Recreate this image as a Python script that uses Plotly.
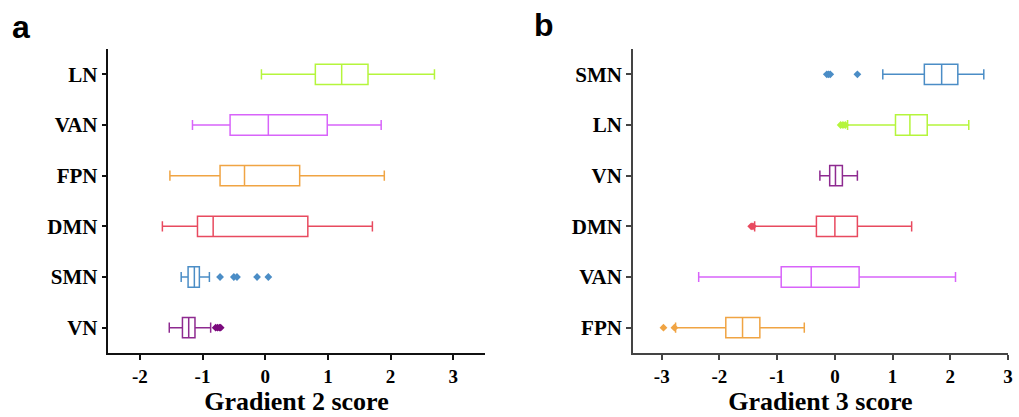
import plotly.graph_objects as go

# ---------- data: panel a (Gradient 2) ----------
cats_a = ["VN", "SMN", "DMN", "FPN", "VAN", "LN"]
lo_a = [-1.53, -1.34, -1.64, -1.52, -1.16, -0.06]
q1_a = [-1.32, -1.23, -1.08, -0.72, -0.56, 0.80]
med_a = [-1.22, -1.13, -0.83, -0.33, 0.05, 1.22]
q3_a = [-1.12, -1.05, 0.68, 0.55, 0.99, 1.64]
hi_a = [-0.87, -0.89, 1.71, 1.90, 1.85, 2.70]
out_a = {"VN": [-0.79, -0.76, -0.73, -0.71], "SMN": [-0.72, -0.50, -0.45, -0.13, 0.05]}
ticks_a = [-2, -1, 0, 1, 2, 3]
ticklabels_a = ["-2", "-1", "0", "1", "2", "3"]

# ---------- data: panel b (Gradient 3) ----------
cats_b = ["FPN", "VAN", "DMN", "VN", "LN", "SMN"]
lo_b = [-2.76, -2.36, -1.39, -0.26, 0.22, 0.83]
q1_b = [-1.89, -0.93, -0.32, -0.09, 1.05, 1.55]
med_b = [-1.60, -0.41, 0.00, 0.01, 1.30, 1.85]
q3_b = [-1.30, 0.42, 0.39, 0.13, 1.60, 2.13]
hi_b = [-0.53, 2.09, 1.33, 0.39, 2.32, 2.58]
out_b = {"FPN": [-2.97, -2.78], "DMN": [-1.45, -1.42], "LN": [0.10, 0.14, 0.18],
         "SMN": [-0.14, -0.11, -0.08, 0.39]}
ticks_b = [-3, -2, -1, 0, 1, 2, 3]
ticklabels_b = ["-3", "-2", "-1", "0", "1", "2", "3"]

colors = {"LN": "#b5f53c", "VAN": "#d864fa", "FPN": "#f0a443", "DMN": "#e84a5f",
          "SMN": "#4b8dc6", "VN": "#8e2a90"}
out_colors = dict(colors, VN="#7b0a7d")

SERIF = "Liberation Serif, Times New Roman, DejaVu Serif, serif"

fig = go.Figure()

def add_panel(cats, lo, q1, med, q3, hi, outs, xa, ya):
    for i, c in enumerate(cats):
        fig.add_trace(go.Box(
            y=[c], q1=[q1[i]], median=[med[i]], q3=[q3[i]],
            lowerfence=[lo[i]], upperfence=[hi[i]], orientation="h",
            width=0.4, whiskerwidth=0.5, boxpoints=False,
            line=dict(color=colors[c], width=1.5), fillcolor="rgba(255,255,255,0)",
            xaxis=xa, yaxis=ya, showlegend=False, hoverinfo="skip"))
    for c, vals in outs.items():
        fig.add_trace(go.Scatter(
            x=vals, y=[c] * len(vals), mode="markers",
            marker=dict(symbol="diamond", size=6, color=out_colors[c]),
            xaxis=xa, yaxis=ya, showlegend=False, hoverinfo="skip"))

add_panel(cats_a, lo_a, q1_a, med_a, q3_a, hi_a, out_a, "x", "y")
add_panel(cats_b, lo_b, q1_b, med_b, q3_b, hi_b, out_b, "x2", "y2")

tickfont = dict(family=SERIF, size=19, color="black")
titlefont = dict(family=SERIF, size=26, color="black")
ydom = [1 - 353 / 417, 1 - 49 / 417]

def xaxis(dom, rng, title, anchor, col, tv, tt):
    return dict(domain=dom, range=rng, anchor=anchor, tickvals=tv,
                ticktext=["<b>%s</b>" % t for t in tt], showline=True, linecolor=col,
                linewidth=1.5, ticks="outside", ticklen=5, tickwidth=1.5, tickcolor=col,
                showgrid=False, zeroline=False, tickfont=tickfont,
                title=dict(text="<b>%s</b>" % title, font=titlefont, standoff=6))

def yaxis(cats, anchor, col):
    return dict(domain=ydom, range=[-0.5, 5.5], anchor=anchor, type="category",
                categoryorder="array", categoryarray=cats, showline=True, linecolor=col,
                linewidth=1.5, ticks="outside", ticklen=5, tickwidth=1.5, tickcolor=col,
                showgrid=False, zeroline=False,
                tickvals=cats, ticktext=["<b>%s</b>" % c for c in cats],
                tickfont=dict(family=SERIF, size=21, color="black"))

fig.update_layout(
    width=1019, height=417, margin=dict(l=0, r=0, t=0, b=0),
    plot_bgcolor="white", paper_bgcolor="white",
    xaxis=xaxis([109 / 1019, 487 / 1019], [-2.5, 3.5], "Gradient 2 score", "y", "#111",
                ticks_a, ticklabels_a),
    yaxis=yaxis(cats_a, "x", "#111"),
    xaxis2=xaxis([636 / 1019, 1013 / 1019], [-3.5, 3], "Gradient 3 score", "y2", "#444",
                 ticks_b, ticklabels_b),
    yaxis2=yaxis(cats_b, "x2", "#444"),
    annotations=[
        dict(text="<b>a</b>", x=10 / 1019, y=1 - 27 / 417, xref="paper", yref="paper",
             xanchor="left", yanchor="middle", showarrow=False,
             font=dict(family="Liberation Sans", size=32, color="black")),
        dict(text="<b>b</b>", x=535 / 1019, y=1 - 25 / 417, xref="paper", yref="paper",
             xanchor="left", yanchor="middle", showarrow=False,
             font=dict(family="Liberation Sans", size=32, color="black")),
    ],
)

fig.write_html("out.html")
